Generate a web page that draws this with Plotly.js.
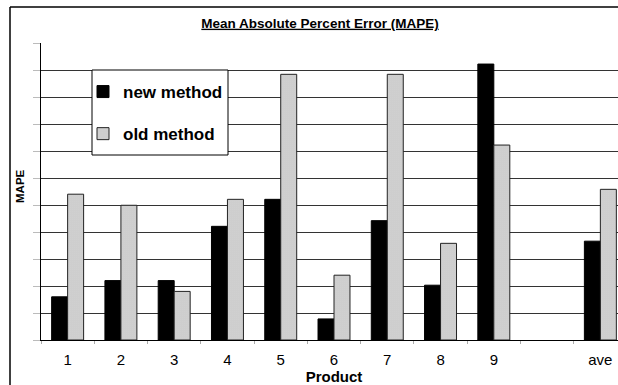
<!DOCTYPE html>
<html>
<head>
<meta charset="utf-8">
<script src="https://cdn.plot.ly/plotly-3.0.1.min.js"></script>
<style>
html, body { margin: 0; padding: 0; overflow: hidden; background: #fff; }
#chart { width: 627px; height: 385px; }
</style>
</head>
<body>
<div id="chart"></div>
<script>
const categories = ['1', '2', '3', '4', '5', '6', '7', '8', '9', ' ', 'ave'];
const newMethod = [1.6, 2.2, 2.2, 4.21, 5.21, 0.78, 4.42, 2.03, 10.22, null, 3.66];
const oldMethod = [5.4, 4.99, 1.8, 5.21, 9.84, 2.4, 9.84, 3.58, 7.22, null, 5.58];
const seriesNames = ['new method', 'old method'];

const FONT = 'Liberation Sans, Arial, sans-serif';
const L = 41, W = 586, T = 43, B = 340, H = B - T;
const px = v => (v - L) / W;
const py = v => (B - v) / H;

const traces = [
  {
    type: 'bar', x: categories, y: newMethod, name: seriesNames[0],
    legendgroup: 'a',
    marker: { color: '#000', line: { color: '#000', width: 1 } },
    hoverinfo: 'x+y'
  },
  {
    type: 'bar', x: categories, y: oldMethod, name: seriesNames[1],
    legendgroup: 'b',
    marker: {
      color: '#fff',
      line: { color: '#222', width: 1 },
      pattern: { shape: '.', fgcolor: '#777', bgcolor: '#fff', size: 2, solidity: 0.35 }
    },
    hoverinfo: 'x+y'
  }
];

const layout = {
  width: 627, height: 385,
  margin: { l: L, r: 0, t: T, b: 385 - B },
  paper_bgcolor: '#fff', plot_bgcolor: '#fff',
  font: { family: FONT, color: '#000', size: 14 },
  title: {
    text: '<u><b>Mean Absolute Percent Error (MAPE)</b></u>',
    font: { family: FONT, size: 13.5, color: '#000' },
    x: px(320), xanchor: 'center', xref: 'paper',
    y: 1 - 23 / 385, yanchor: 'middle', yref: 'container'
  },
  barmode: 'group', bargap: 0.4, bargroupgap: 0,
  showlegend: true,
  legend: {
    x: px(83), y: py(74), xanchor: 'left', yanchor: 'top',
    bgcolor: 'rgba(0,0,0,0)', borderwidth: 0,
    font: { family: FONT, size: 17, color: '#000', weight: 'bold' },
    traceorder: 'grouped', tracegroupgap: 17, itemwidth: 30
  },
  xaxis: {
    type: 'category', categoryorder: 'array', categoryarray: categories,
    range: [-0.5, 10.5],
    showline: true, linecolor: '#000', linewidth: 1,
    ticks: 'outside', tickson: 'boundaries', ticklen: 3, tickcolor: '#aaa',
    ticklabelstandoff: 6,
    tickfont: { family: FONT, size: 15, color: '#000' },
    showgrid: false, zeroline: false,
    title: { text: '<b>Product</b>', font: { family: FONT, size: 15, color: '#000' }, standoff: 3 }
  },
  yaxis: {
    range: [0, 11], dtick: 1, tick0: 0,
    showticklabels: false,
    ticks: 'outside', ticklen: 7, tickcolor: '#bbb',
    showgrid: true, gridcolor: '#333', gridwidth: 1,
    showline: true, linecolor: '#000', linewidth: 1,
    zeroline: false
  },
  annotations: [
    { text: '<b>MAPE</b>', xref: 'paper', yref: 'paper', x: px(20), y: py(186),
      xanchor: 'center', yanchor: 'middle', textangle: -90, showarrow: false,
      font: { family: FONT, size: 11.5, color: '#000' } }
  ],
  shapes: [
    // legend box
    { type: 'rect', xref: 'paper', yref: 'paper',
      x0: px(92), x1: px(228), y0: py(155), y1: py(70),
      fillcolor: '#fff', line: { color: '#000', width: 1 }, layer: 'above' },
    // outer chart border (left and top)
    { type: 'line', xref: 'paper', yref: 'paper',
      x0: px(10), x1: px(10), y0: py(7), y1: py(390),
      line: { color: '#000', width: 1.5 } },
    { type: 'line', xref: 'paper', yref: 'paper',
      x0: px(10), x1: 1.05, y0: py(7), y1: py(7),
      line: { color: '#000', width: 1.5 } }
  ]
};

Plotly.newPlot('chart', traces, layout, { displayModeBar: false, staticPlot: true });
</script>
</body>
</html>
